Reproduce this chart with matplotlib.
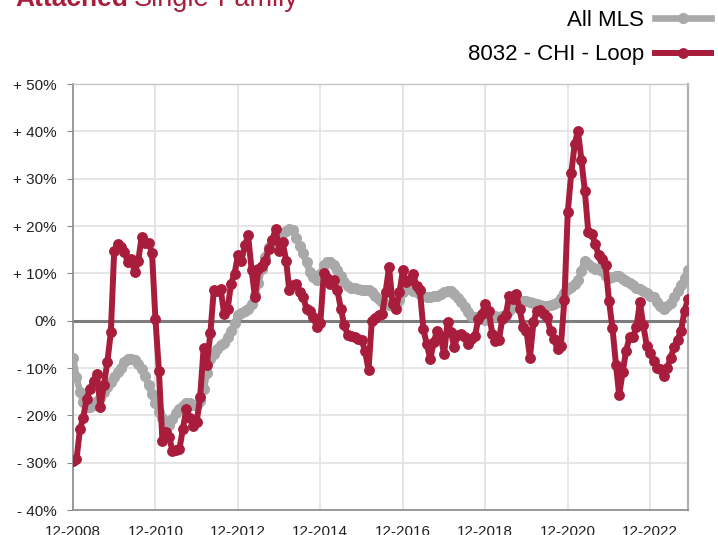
import matplotlib.pyplot as plt
import numpy as np
import pandas as pd

plt.rcParams['font.family'] = ['Liberation Sans', 'DejaVu Sans']

# monthly year-over-year change, 12-2008 .. 11-2023
start_month = "2008-12-01"

all_mls = [
    -7.9, -12.0, -15.0, -17.2, -18.2, -18.3, -17.8, -17.0, -16.3, -15.0,
    -14.0, -12.9, -11.8, -10.8, -10.0, -8.8, -8.0, -8.0, -8.4, -9.2,
    -10.3, -11.6, -13.6, -15.5, -17.5, -19.3, -20.5, -21.6, -22.0, -20.8,
    -19.6, -18.7, -18.0, -17.5, -17.5, -17.8, -17.8, -17.0, -14.5, -11.0,
    -8.0, -7.0, -6.0, -5.2, -4.8, -3.5, -2.2, -0.5, 1.2, 1.6,
    2.1, 2.5, 3.5, 5.5, 8.0, 11.0, 13.5, 15.5, 16.8, 17.5,
    18.0, 18.5, 19.0, 19.4, 19.2, 17.5, 15.8, 14.2, 12.3, 10.2,
    9.2, 8.6, 9.8, 11.8, 12.4, 12.3, 11.8, 10.8, 9.5, 8.2,
    7.3, 7.0, 6.8, 6.7, 6.5, 6.4, 6.4, 6.0, 5.2, 4.6,
    4.0, 3.5, 3.3, 3.2, 3.3, 4.3, 6.0, 7.6, 6.8, 6.3,
    6.0, 5.6, 5.2, 5.0, 5.0, 5.2, 5.3, 5.6, 6.0, 6.3,
    6.2, 5.6, 4.8, 4.0, 2.8, 1.8, 1.0, 0.8, 0.6, 0.3,
    0.2, 0.5, 0.8, 1.0, 0.8, 1.0, 1.4, 2.0, 2.8, 3.5,
    3.9, 4.2, 4.2, 4.0, 3.8, 3.6, 3.4, 3.2, 3.2, 3.3,
    3.5, 4.0, 4.8, 5.8, 6.6, 7.2, 7.7, 8.5, 10.5, 12.7,
    12.0, 11.4, 11.0, 11.2, 10.5, 9.4, 9.0, 9.3, 9.5, 9.4,
    8.8, 8.4, 8.0, 7.6, 7.0, 6.6, 6.3, 5.9, 5.3, 4.9,
    4.0, 3.2, 2.5, 3.0, 3.8, 5.0, 6.3, 7.6, 9.0, 10.6,
]

chi_loop = [
    -29.7, -29.3, -22.9, -20.5, -16.5, -14.4, -12.7, -11.2, -18.2, -13.5,
    -8.8, -2.5, 14.8, 16.2, 15.5, 14.5, 12.4, 13.0, 10.2, 12.5,
    17.7, 16.5, 16.5, 14.3, 0.4, -10.6, -25.4, -23.6, -24.5, -27.5,
    -27.4, -27.2, -22.9, -18.7, -20.5, -22.2, -21.5, -16.2, -5.8, -9.3,
    -2.6, 6.4, 6.2, 6.7, 1.4, 2.5, 7.8, 9.9, 13.8, 12.7,
    15.9, 18.0, 10.8, 4.9, 11.0, 11.5, 12.5, 15.2, 17.0, 19.4,
    14.8, 16.6, 12.7, 6.4, 7.5, 7.8, 6.0, 5.0, 2.5, 2.1,
    0.7, -1.4, -0.5, 10.0, 9.0, 7.8, 8.5, 6.4, 2.5, -1.0,
    -3.0, -3.3, -3.5, -3.8, -4.0, -6.4, -10.4, 0.0, 0.5, 1.2,
    1.4, 6.0, 11.3, 3.5, 2.5, 6.0, 10.6, 8.1, 8.5, 9.9,
    7.4, 6.4, -1.8, -5.0, -8.1, -4.5, -2.1, -3.2, -7.1, -0.3,
    -2.5, -5.6, -3.0, -2.8, -3.5, -4.9, -3.8, -3.2, 0.4, 1.5,
    3.5, 2.1, -2.8, -4.2, -4.1, 0.4, 1.1, 5.3, 4.6, 5.6,
    2.5, -1.4, -2.1, -7.8, -0.3, 2.1, 2.3, 1.5, 0.7, -2.1,
    -3.9, -6.0, -5.3, 4.4, 23.0, 31.2, 37.4, 40.1, 33.9, 27.4,
    18.7, 18.4, 16.2, 13.8, 13.1, 11.7, 4.2, -1.6, -9.3, -15.7,
    -10.9, -6.4, -3.5, -3.4, -1.4, 3.9, -1.0, -5.3, -6.9, -8.5,
    -9.9, -10.2, -11.7, -10.0, -7.8, -5.6, -4.0, -2.1, 2.1, 4.5,
]

series_names = ["All MLS", "8032 - CHI - Loop"]
y_ticks = [-40, -30, -20, -10, 0, 10, 20, 30, 40, 50]
x_tick_years = [2008, 2010, 2012, 2014, 2016, 2018, 2020, 2022]

red = "#a81d3b"
grey = "#a9a9a9"

dates = pd.date_range(start_month, periods=len(all_mls), freq="MS")


def pct_label(v):
    if v == 0:
        return "0%"
    if v > 0:
        return "+ {:.0f}%".format(v)
    return "- {:.0f}%".format(abs(v))


fig = plt.figure(figsize=(7.18, 5.35), dpi=100)
ax = fig.add_axes([73 / 718, 25 / 535, 615 / 718, 426 / 535])

l1, = ax.plot(dates, all_mls, color=grey, lw=4.8, marker="o", ms=7,
              zorder=3, label=series_names[0])
l2, = ax.plot(dates, chi_loop, color=red, lw=4.3, marker="o", ms=6.8,
              zorder=4, label=series_names[1])
ax.axhline(0, color="#7d7d7d", lw=2.2, zorder=2)

ax.set_xlim(dates[0], dates[-1])
ax.set_ylim(-40, 50)
ax.set_yticks(y_ticks)
ax.set_yticklabels([pct_label(v) for v in y_ticks])
xt = [pd.Timestamp("{}-12-01".format(y)) for y in x_tick_years]
ax.set_xticks(xt)
ax.set_xticklabels(["12-{}".format(y) for y in x_tick_years])

ax.grid(True, color="#e2e2e2", lw=1.2)
ax.set_axisbelow(True)
for side in ["left", "bottom"]:
    ax.spines[side].set_color("#8a8a8a")
    ax.spines[side].set_linewidth(1.2)
ax.spines["right"].set_color("#b0b0b0")
ax.spines["right"].set_linewidth(1.6)
ax.spines["top"].set_color("#c4c4c4")
ax.spines["top"].set_linewidth(1.0)

ax.tick_params(axis="y", length=4, color="#8a8a8a", pad=8,
               labelsize=11, labelcolor="#222222")
ax.tick_params(axis="x", length=0, pad=11, labelsize=11,
               labelcolor="#222222")

fig.legend(handles=[l1, l2], loc="upper right",
           bbox_to_anchor=(711 / 718, 1 - 10 / 535), frameon=False,
           markerfirst=False, fontsize=16, handlelength=2.5, numpoints=1,
           labelspacing=0.6, handletextpad=0.5, borderaxespad=0,
           borderpad=0)

fig.text(15 / 718, 1 - 6 / 535, "Attached", color=red, fontsize=19,
         fontweight="bold", va="baseline")
fig.text(134 / 718, 1 - 6 / 535, "Single-Family", color=red, fontsize=19.5,
         va="baseline")

fig.savefig("out.png", dpi=100)
